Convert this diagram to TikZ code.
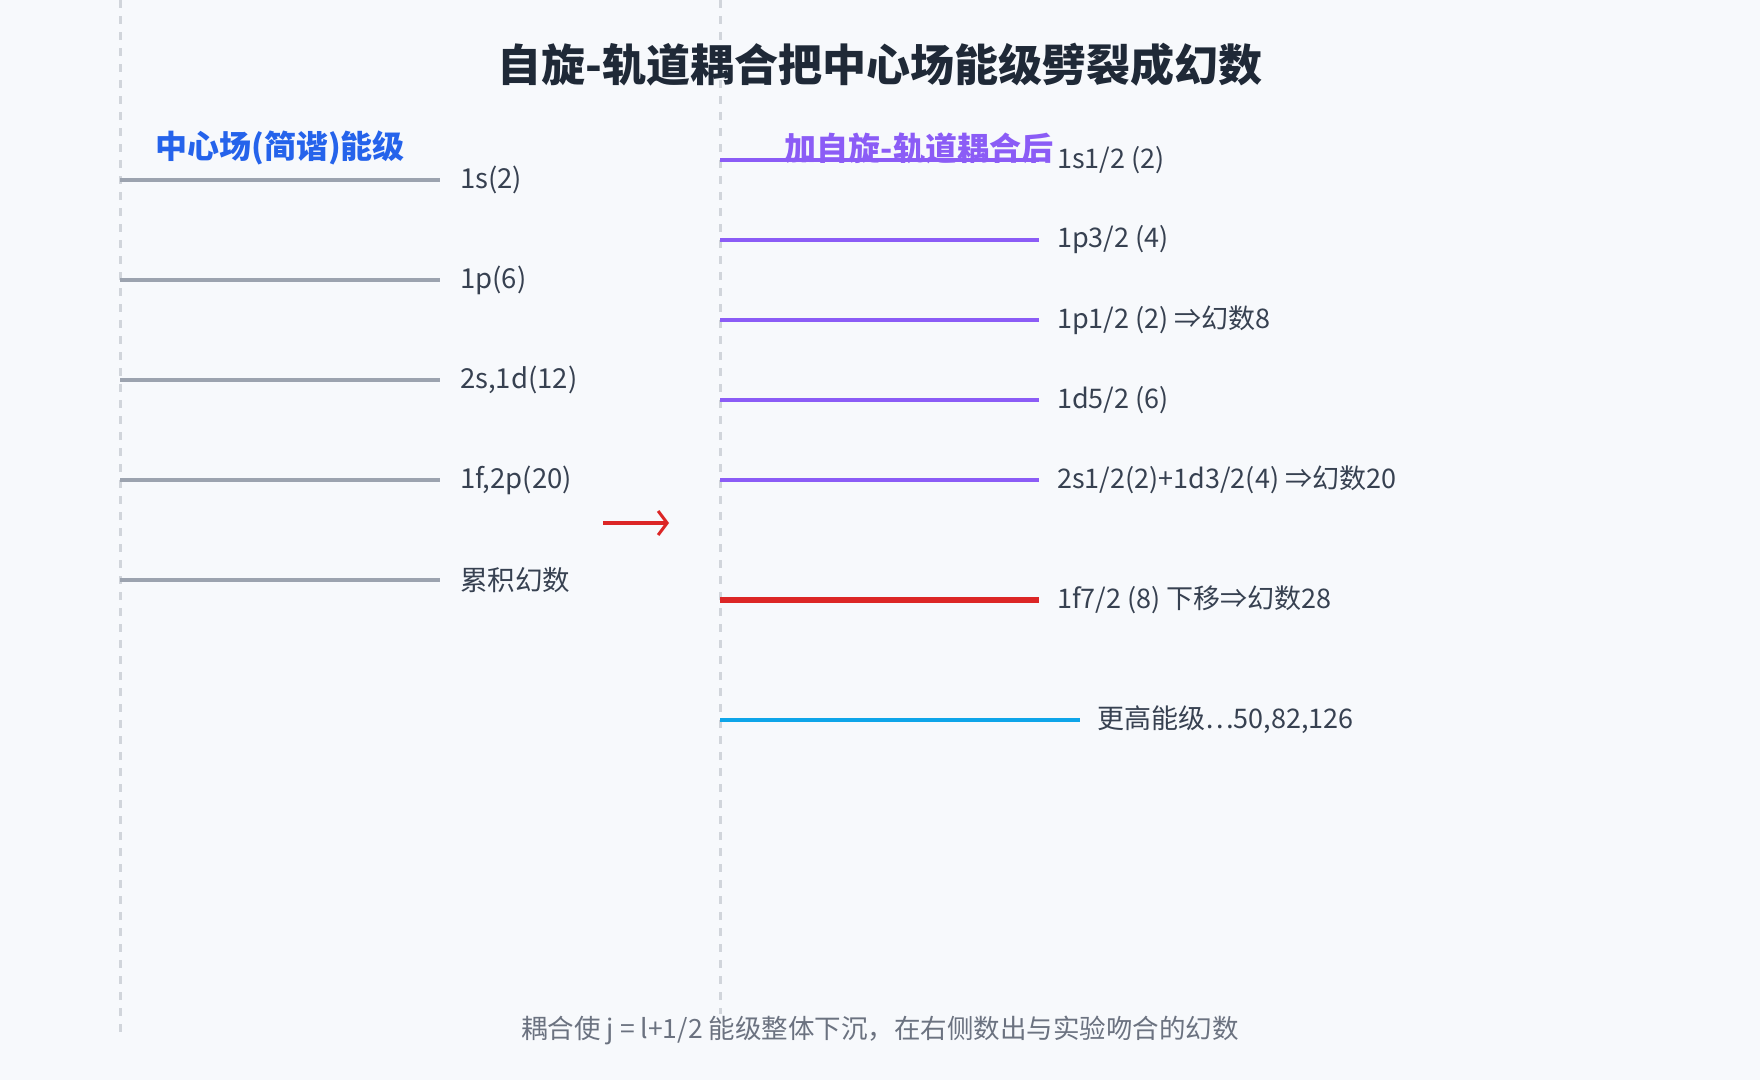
\documentclass[tikz,border=0pt]{standalone}
\usepackage{fontspec}
\setmainfont{Noto Sans CJK SC}
\usetikzlibrary{arrows.meta}
\definecolor{bg}{HTML}{F7F9FC}
\definecolor{guidec}{HTML}{D1D5DB}
\definecolor{titlec}{HTML}{1F2937}
\definecolor{labelc}{HTML}{374151}
\definecolor{capc}{HTML}{6B7280}
\definecolor{leftc}{HTML}{9CA3AF}
\definecolor{hblue}{HTML}{2563EB}
\definecolor{purp}{HTML}{8B5CF6}
\definecolor{redc}{HTML}{DC2626}
\definecolor{skyc}{HTML}{0EA5E9}
\tikzset{
  guide/.style={draw=guidec, line width=3pt, dash pattern=on 8pt off 8pt},
  oldlevel/.style={draw=leftc, line width=4pt},
  newlevel/.style={draw=purp, line width=4pt},
  lbl/.style={anchor=west, inner sep=0pt, text=labelc, font=\fontsize{27.5}{32}\selectfont},
  head/.style={inner sep=0pt, font=\fontsize{32}{38}\selectfont\bfseries},
}
\begin{document}
\begin{tikzpicture}[x=1pt,y=-1pt]
\fill[bg] (0,0) rectangle (1760,1080);
\useasboundingbox (0,0) rectangle (1760,1080);
% guides
\coordinate (g1t) at (120,0); \coordinate (g1b) at (120,1032);
\coordinate (g2t) at (720,0); \coordinate (g2b) at (720,1032);
\draw[guide] (g1t) -- (g1b);
\draw[guide] (g2t) -- (g2b);
% title
\node[inner sep=0pt, text=titlec, font=\fontsize{44}{50}\selectfont\bfseries] (title) at (880,65) {自旋-轨道耦合把中心场能级劈裂成幻数};
% headers
\node[head, text=hblue] (hl) at (280,148) {中心场(简谐)能级};
\node[head, text=purp] (hr) at (919,148) {加自旋-轨道耦合后};
% left levels
\foreach \y/\t [count=\i] in {180/1s(2), 280/1p(6), 380/{2s,1d(12)}, 480/{1f,2p(20)}, 580/累积幻数}{
  \coordinate (la\i) at (120,\y);
  \coordinate (lb\i) at (440,\y);
  \draw[oldlevel] (la\i) -- (lb\i);
  \node[lbl] (ll\i) at (460,\y) {\t};
}
% right levels
\foreach \y/\t [count=\i] in {160/{1s1/2 (2)}, 240/{1p3/2 (4)}, 320/{1p1/2 (2) ⇒幻数8}, 400/{1d5/2 (6)}, 480/{2s1/2(2)+1d3/2(4) ⇒幻数20}}{
  \coordinate (ra\i) at (720,\y);
  \coordinate (rb\i) at (1039,\y);
  \draw[newlevel] (ra\i) -- (rb\i);
  \node[lbl, font=\fontsize{27}{32}\selectfont] (rl\i) at (1057,\y) {\t};
}
\coordinate (ra6) at (720,600); \coordinate (rb6) at (1039,600);
\draw[draw=redc, line width=6pt] (ra6) -- (rb6);
\node[lbl, font=\fontsize{27}{32}\selectfont] (rl6) at (1057,600) {1f7/2 (8) 下移⇒幻数28};
\coordinate (ra7) at (720,720); \coordinate (rb7) at (1080,720);
\draw[draw=skyc, line width=4pt] (ra7) -- (rb7);
\node[lbl, font=\fontsize{27}{32}\selectfont] (rl7) at (1097,720) {更高能级…50,82,126};
% arrow
\coordinate (arA) at (603,523); \coordinate (arB) at (669,523);
\draw[draw=redc, line width=3.5pt, -{Straight Barb[length=9pt, width=24pt, line width=3pt]}] (arA) -- (arB);
% caption
\node[fill=bg, inner sep=2pt, text=capc, font=\fontsize{26.5}{30}\selectfont] (cap) at (880,1030) {耦合使 j = l+1/2 能级整体下沉，在右侧数出与实验吻合的幻数};
\end{tikzpicture}
\end{document}
